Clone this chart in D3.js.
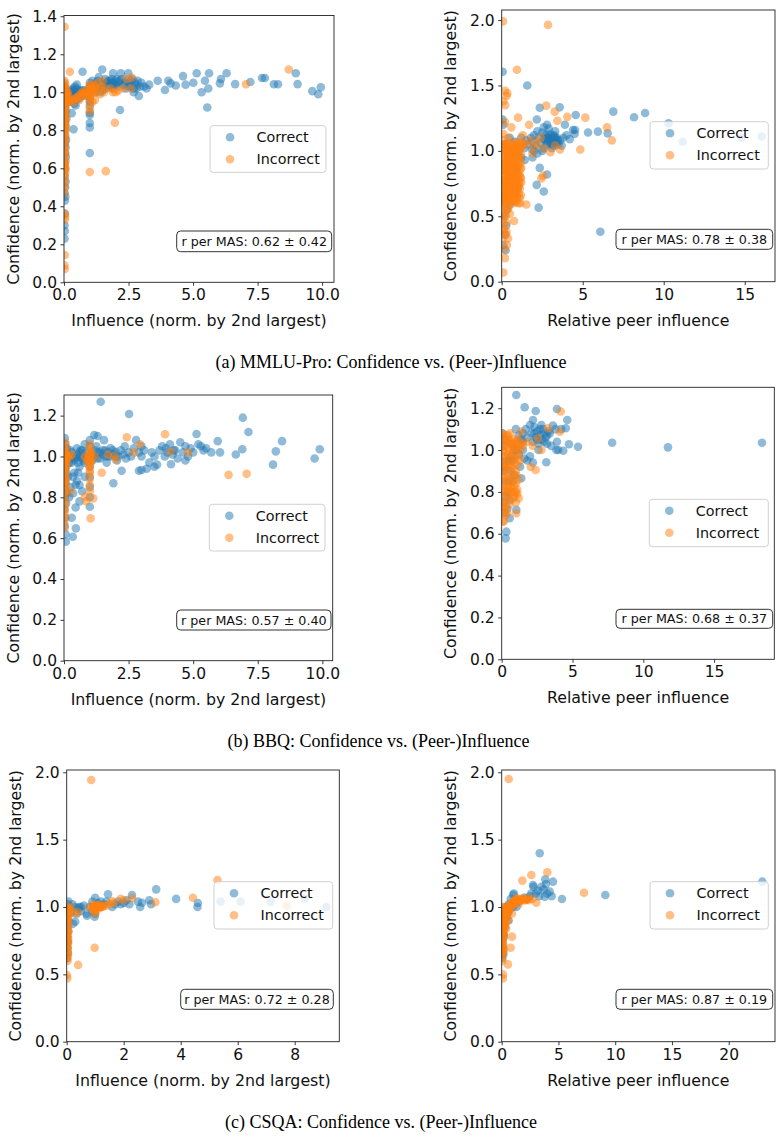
<!DOCTYPE html>
<html>
<head>
<meta charset="utf-8">
<script src="https://cdn.jsdelivr.net/npm/d3@7"></script>
<style>
  body { margin: 0; background: #fff; }
  svg text { font-family: "DejaVu Sans", sans-serif; }
</style>
</head>
<body>
<svg id="chart"></svg>
<script>
// ---- data ----
const seriesNames = ["Correct", "Incorrect"];
const yLabel = "Confidence (norm. by 2nd largest)";
const infLabel = "Influence (norm. by 2nd largest)";
const peerLabel = "Relative peer influence";
const captions = [
  "(a) MMLU-Pro: Confidence vs. (Peer-)Influence",
  "(b) BBQ: Confidence vs. (Peer-)Influence",
  "(c) CSQA: Confidence vs. (Peer-)Influence"
];
const rTexts = [
  "r per MAS: 0.62 ± 0.42", "r per MAS: 0.78 ± 0.38",
  "r per MAS: 0.57 ± 0.40", "r per MAS: 0.68 ± 0.37",
  "r per MAS: 0.72 ± 0.28", "r per MAS: 0.87 ± 0.19"
];

// tick values
const xTicksInf10 = [0, 2.5, 5, 7.5, 10];
const xTicksPeer15 = [0, 5, 10, 15];
const xTicksInf8 = [0, 2, 4, 6, 8];
const xTicksPeer20 = [0, 5, 10, 15, 20];
const yTicks14 = [0, 0.2, 0.4, 0.6, 0.8, 1.0, 1.2, 1.4];
const yTicks12 = [0, 0.2, 0.4, 0.6, 0.8, 1.0, 1.2];
const yTicks20 = [0, 0.5, 1.0, 1.5, 2.0];

// (a) MMLU-Pro, influence
const mmluInfCorrect = [
  [0.02,0.23],[0.03,0.27],[0.02,0.3],[0.04,0.36],[0.03,0.43],[0.05,0.45],[0.02,0.47],[0.04,0.5],
  [0.06,0.53],[0.03,0.56],[0.05,0.6],[0.02,0.63],[0.07,0.66],[0.04,0.68],[0.06,0.71],[0.03,0.73],
  [0.08,0.75],[0.05,0.77],[0.02,0.8],[0.06,0.82],[0.04,0.84],[0.09,0.86],[0.03,0.88],[0.07,0.9],
  [0.05,0.92],[0.02,0.94],[0.1,0.95],[0.06,0.97],[0.03,0.98],[0.12,0.99],[0.08,1.0],[0.04,1.01],
  [0.15,1.0],[0.02,1.03],
  [0.2,1.0],[0.25,0.99],[0.3,1.01],[0.35,1.0],[0.4,0.99],[0.45,1.0],[0.5,1.02],[0.55,1.0],
  [0.6,0.99],[0.65,1.0],[0.7,1.01],[0.75,0.98],[0.8,1.0],[0.85,1.0],[0.9,0.99],[0.95,1.0],
  [0.3,0.97],[0.5,0.96],[0.42,1.03],[0.35,1.02],[0.6,0.97],
  [0.1,1.0],[0.18,0.99],[0.28,1.0],[0.38,1.01],[0.48,0.99],[0.58,1.01],[0.68,0.99],[0.78,1.01],
  [0.88,1.0],[1.05,1.01],[1.15,1.03],[1.25,1.05],[1.45,1.04],[1.65,1.05],[1.85,1.07],[2.0,1.04],
  [2.15,1.06],[2.35,1.05],[2.5,1.03],[2.6,1.06],[2.8,1.02],[1.9,1.05],[1.7,1.06],[2.1,1.03],
  [0.37,0.805],[0.3,0.89],[0.4,0.94],[0.45,0.93],[0.25,0.95],[0.72,1.108],[0.5,1.04],
  [1.0,1.05],[1.0,1.03],[1.0,1.0],[1.0,0.97],[1.0,0.95],[1.0,0.93],[1.0,0.893],[1.0,0.88],
  [1.0,0.838],[1.0,0.815],[1.0,0.68],
  [1.1,1.02],[1.2,1.04],[1.3,1.06],[1.35,1.08],[1.48,1.12],[1.5,1.05],[1.55,1.03],[1.6,1.07],
  [1.7,1.05],[1.75,1.04],[1.8,1.06],[1.85,1.05],[1.9,1.1],[1.95,1.04],[2.0,1.06],[2.05,1.07],
  [2.1,1.05],[2.2,1.1],[2.25,1.07],[2.3,1.04],[2.4,1.06],[2.49,1.1],[2.55,1.05],[2.6,1.03],
  [2.65,1.07],[2.7,1.02],[2.75,1.05],[2.8,1.04],[2.85,1.06],[2.9,0.98],[2.95,1.03],[3.0,1.05],
  [3.1,1.03],[3.2,1.02],[3.3,1.04],[2.17,0.907],[1.4,1.0],[1.6,1.02],[1.2,1.0],[1.8,1.03],
  [2.7,1.0],[2.4,1.02],[1.1,1.06],[1.3,1.02],[1.5,1.01],[1.9,1.02],
  [3.63,1.061],[3.91,1.012],[4.04,1.061],[4.13,1.047],[4.33,1.036],[4.61,1.085],[4.71,1.04],
  [5.01,1.05],[5.14,1.1],[5.33,1.0],[5.46,1.061],[5.59,1.02],[5.62,1.1],[5.55,0.92],[6.04,1.047],
  [6.08,1.07],[6.3,1.1],[6.63,1.043],[7.22,1.054],[7.67,1.075],[7.78,1.075],[8.13,1.042],
  [8.29,1.042],[8.98,1.1],[9.05,1.043],[9.62,1.006],[9.85,0.99],[9.95,1.026]
];
const mmluInfIncorrect = [
  [0.02,1.345],[0.03,0.144],[0.02,0.09],[0.03,0.07],[0.02,0.363],[0.04,0.345],[0.03,0.33],
  [0.02,0.47],[0.03,0.5],[0.05,0.58],[0.02,0.6],[0.04,0.62],[0.06,0.64],[0.03,0.7],[0.05,0.74],
  [0.02,0.78],[0.07,0.8],[0.04,0.82],[0.03,0.85],[0.08,0.87],[0.05,0.89],[0.02,0.91],[0.06,0.93],
  [0.1,0.95],[0.04,0.96],[0.12,0.98],[0.03,1.0],[0.08,1.02],[0.05,1.04],[0.02,1.06],[0.15,0.97],
  [0.2,0.95],[0.23,1.108],[0.26,0.95],[0.33,0.96],
  [0.01,0.52],[0.03,0.54],[0.02,0.56],[0.04,0.59],[0.01,0.61],[0.03,0.63],[0.02,0.66],[0.05,0.68],
  [0.01,0.69],[0.03,0.72],[0.02,0.75],[0.04,0.76],[0.01,0.79],[0.03,0.81],[0.05,0.83],[0.02,0.84],
  [0.04,0.86],[0.01,0.88],[0.06,0.9],[0.03,0.92],[0.02,0.94],[0.05,0.95],[0.08,0.97],[0.01,0.98],
  [0.04,0.99],[0.06,1.01],[0.02,1.02],[0.1,1.0],[0.03,1.05],[0.07,0.99],[0.14,1.0],[0.18,0.98],
  [0.85,1.0],[0.9,0.98],[0.95,1.02],[1.0,1.0],[1.0,0.97],[1.0,0.95],[1.0,0.92],[1.0,0.9],
  [1.0,0.58],[1.05,1.03],[1.1,1.0],[0.8,0.99],[0.75,1.0],[1.15,1.04],[1.2,1.01],[1.3,1.05],
  [1.25,1.0],[1.0,1.04],[0.6,0.96],[0.5,0.97],[0.4,0.95],[0.7,0.98],[1.62,0.585],[1.97,0.84],
  [0.95,0.99],[1.0,1.01],[1.05,0.99],[1.1,1.02],[0.9,1.0],[1.0,1.02],[1.2,1.03],[1.35,1.02],
  [0.7,1.0],[0.55,0.98],[0.45,0.97],[0.65,0.99],[1.45,1.03],
  [1.4,0.99],[1.6,1.02],[1.8,1.02],[1.9,1.0],[2.0,1.0],[2.1,1.01],[2.3,1.02],[2.43,1.07],
  [2.62,1.077],[2.6,1.02],[1.5,1.06],[1.55,1.0],[1.1,0.95],[1.2,0.96],[7.05,1.042],[8.71,1.12]
];

// (a) MMLU-Pro, relative peer influence
const mmluPeerCorrect = [
  [0.06,1.605],[0.05,1.24],[0.1,1.2],[0.24,0.24],[0.1,0.28],[0.2,0.36],[0.28,0.43],[0.15,0.5],
  [0.3,0.55],[0.49,0.586],[0.2,0.6],[0.4,0.65],[0.6,0.7],[0.3,0.72],[0.8,0.75],[1.0,0.72],
  [0.5,0.8],[0.9,0.85],[0.7,0.9],[0.4,0.95],[1.0,0.98],[0.6,1.0],[1.1,1.03],[0.2,1.05],
  [0.8,1.07],[0.5,1.1],[0.3,0.86],[1.2,0.95],[0.1,0.66],
  [1.2,1.1],[1.5,1.08],[1.6,1.05],[1.8,1.1],[1.9,1.07],[2.0,1.12],[2.1,1.04],[2.2,1.15],
  [2.3,1.1],[2.4,1.06],[2.5,1.14],[2.6,1.09],[2.7,1.12],[2.8,1.05],[2.9,1.1],[3.0,1.13],
  [3.0,1.06],[3.1,1.09],[3.2,1.11],[3.2,1.04],[3.3,1.07],[3.4,1.1],[3.5,1.05],[2.6,1.02],
  [2.2,0.98],[1.9,0.95],[2.5,1.0],[3.6,1.08],[3.8,1.1],[4.0,1.12],[3.9,1.2],[4.4,1.16],
  [4.53,1.16],[4.57,1.274],[4.5,1.13],[2.17,1.24],[2.35,1.33],[3.58,1.333],[2.6,1.18],[2.8,1.2],
  [1.58,1.5],[1.42,0.93],[1.87,1.01],[2.35,0.87],[2.8,0.82],[2.16,0.74],[2.6,0.69],[2.28,0.566],
  [2.9,1.07],[3.05,1.1],[3.15,1.07],[3.25,1.12],[3.35,1.08],[2.95,1.12],[3.1,1.05],[3.4,1.06],
  [3.2,1.09],[2.85,1.09],[3.3,1.1],[3.45,1.08],[3.0,1.08],[2.75,1.1],
  [5.33,1.14],[5.94,1.147],[6.54,1.134],[6.89,1.30],[8.17,1.257],[8.85,1.29],[10.3,1.21],
  [11.17,1.07],[14.8,1.1],[16.05,1.11],[6.09,0.382],[4.2,1.09],[3.7,1.04],[2.0,1.0],[1.4,1.02],
  [3.3,1.15],[2.9,1.17],[3.1,1.02],[2.7,1.08]
];
const mmluPeerIncorrect = [
  [0.08,1.99],[2.86,1.963],[0.94,1.62],[0.35,1.44],[0.2,1.46],[0.3,1.42],[0.22,1.35],[0.1,1.38],
  [2.75,1.346],[3.27,1.3],[4.05,1.26],[5.16,1.254],[6.5,1.18],[6.8,1.08],[4.85,1.01],[3.6,1.01],
  [3.44,1.23],[1.01,1.254],[0.6,1.18],[1.69,1.2],[0.76,0.464],[1.52,0.59],[1.15,0.6],[2.45,0.79],
  [2.55,0.81],[0.39,0.33],[0.32,0.28],[0.2,0.18],[0.1,0.07],[0.15,0.25],[0.3,0.38],[0.1,0.45],
  [0.25,0.5],[0.05,0.55],[0.4,0.56],
  [0.05,0.62],[0.2,0.64],[0.35,0.61],[0.5,0.63],[0.65,0.66],[0.8,0.62],[0.95,0.65],[1.1,0.64],
  [0.1,0.7],[0.3,0.68],[0.45,0.72],[0.6,0.7],[0.75,0.74],[0.9,0.71],[1.05,0.73],[1.2,0.76],
  [0.05,0.78],[0.2,0.76],[0.35,0.8],[0.5,0.78],[0.7,0.81],[0.85,0.79],[1.0,0.82],[1.15,0.8],
  [0.1,0.85],[0.25,0.84],[0.4,0.87],[0.55,0.85],[0.7,0.88],[0.9,0.86],[1.05,0.89],[1.2,0.87],
  [0.05,0.92],[0.2,0.91],[0.35,0.94],[0.5,0.92],[0.65,0.95],[0.8,0.93],[0.95,0.96],[1.1,0.94],
  [0.1,0.98],[0.25,1.0],[0.4,0.99],[0.6,1.01],[0.75,0.98],[0.9,1.02],[1.05,1.0],[1.2,1.03],
  [0.15,1.04],[0.3,1.05],[0.5,1.03],[0.7,1.05],[0.85,1.04],[1.0,1.06],[1.3,1.06],[1.5,1.05],
  [0.12,0.6],[0.28,0.61],[0.42,0.6],[0.58,0.61],[0.72,0.6],[0.88,0.61],[1.02,0.6],
  [0.02,0.64],[0.15,0.66],[0.3,0.65],[0.45,0.66],[0.6,0.65],[0.75,0.67],[0.9,0.66],[1.05,0.67],
  [1.18,0.66],[0.08,0.68],[0.22,0.7],[0.38,0.69],[0.52,0.71],[0.68,0.69],[0.82,0.71],[0.98,0.7],
  [1.12,0.71],[0.02,0.73],[0.15,0.74],[0.32,0.73],[0.48,0.75],[0.62,0.73],[0.78,0.75],[0.95,0.74],
  [1.1,0.75],[0.1,0.77],[0.25,0.78],[0.4,0.77],[0.58,0.79],[0.72,0.78],[0.88,0.77],[1.02,0.78],
  [1.18,0.79],[0.02,0.81],[0.18,0.82],[0.32,0.83],[0.48,0.81],[0.62,0.82],[0.8,0.84],[0.95,0.83],
  [1.1,0.82],[0.12,0.86],[0.3,0.87],[0.45,0.88],[0.62,0.86],[0.78,0.87],[0.98,0.88],[1.15,0.86],
  [0.02,0.89],[0.15,0.9],[0.28,0.91],[0.42,0.9],[0.58,0.89],[0.72,0.91],[0.88,0.9],[1.02,0.92],
  [1.18,0.91],[0.1,0.95],[0.25,0.96],[0.45,0.95],[0.6,0.97],[0.75,0.96],[0.9,0.97],[1.05,0.96],
  [1.2,0.97],[0.02,1.0],[0.18,1.02],[0.32,1.01],[0.48,1.0],[0.65,1.02],[0.82,1.01],[0.98,1.02],
  [1.12,1.01],[0.1,1.05],[0.4,1.06],[0.6,1.05],[0.95,1.07],[1.15,1.06],[1.25,1.04],
  [0.05,0.33],[0.15,0.4],[0.3,0.45],[0.05,0.48],[0.2,0.52],[0.35,0.55],[0.1,0.58],[0.5,0.52],
  [0.02,0.4],[0.25,0.36],
  [1.8,1.08],[2.0,1.03],[2.2,1.06],[2.6,1.02],[3.0,0.99],[2.4,1.1],[1.9,0.98],[3.3,1.04],
  [0.05,1.08],[0.1,1.13],[0.4,1.1],[0.2,1.22],[1.3,1.12]
];

// (b) BBQ, influence
const bbqInfCorrect = [
  [0.07,0.583],[0.06,0.62],[0.03,0.66],[0.05,0.7],[0.02,0.74],[0.08,0.77],[0.04,0.8],[0.1,0.82],
  [0.03,0.84],[0.06,0.87],[0.02,0.9],[0.09,0.92],[0.05,0.94],[0.12,0.96],[0.03,0.98],[0.07,1.0],
  [0.02,1.02],[0.1,1.04],[0.05,1.06],[0.03,1.09],
  [0.34,0.607],[0.46,0.648],[0.3,0.7],[0.45,0.75],[0.6,0.78],[0.35,0.82],[0.25,0.85],[0.7,0.83],
  [0.5,0.88],[0.8,0.9],[0.4,0.92],[0.6,0.95],[0.3,0.97],[0.2,1.0],[0.35,1.0],[0.45,0.99],
  [0.55,1.01],[0.65,1.0],[0.75,0.98],[0.85,1.02],[0.9,1.0],[0.25,1.03],[0.5,1.04],[0.7,1.03],
  [0.15,0.9],[0.6,0.86],
  [0.1,0.98],[0.2,0.97],[0.3,1.02],[0.4,0.98],[0.5,1.0],[0.6,1.02],[0.7,0.99],[0.8,0.97],
  [0.15,1.01],[0.25,0.99],[0.55,0.97],[0.65,1.03],[1.1,1.01],[1.2,1.03],[1.3,0.99],[1.4,1.02],
  [1.5,1.03],[1.6,1.0],[1.7,1.02],[1.8,1.0],[1.9,1.03],[2.0,1.0],[0.35,0.9],[0.45,0.86],
  [0.2,0.8],[0.55,0.92],
  [1.0,0.754],[1.0,0.8],[1.0,0.85],[1.0,0.9],[1.0,0.95],[1.0,1.0],[1.0,1.05],[1.0,1.08],[1.17,1.105],
  [1.2,1.0],[1.3,1.02],[1.4,0.99],[1.5,1.01],[1.6,1.03],[1.7,1.0],[1.8,1.04],[1.9,1.01],
  [2.0,1.02],[2.1,1.0],[2.2,1.03],[2.3,1.01],[2.4,0.99],[2.5,1.02],[2.6,1.0],[2.7,1.04],
  [2.79,1.08],[2.9,1.02],[3.0,1.0],[3.1,1.03],[3.2,0.94],[3.3,0.97],[3.4,1.02],[3.5,1.0],
  [3.6,0.96],[3.7,1.03],[3.8,1.05],[3.9,1.0],[4.0,1.02],[4.1,1.06],[4.2,1.01],[4.3,1.03],
  [4.4,0.99],[4.5,1.07],[4.6,1.02],[4.7,1.05],[4.8,1.0],[4.9,1.04],[5.0,1.02],[5.13,1.11],
  [5.2,1.06],[5.3,1.05],[5.4,1.03],[5.5,1.04],[5.7,1.02],[5.95,1.075],[6.04,1.02],
  [1.42,1.268],[2.52,1.208],[1.91,0.869],[2.23,0.93],[3.0,0.934],[4.14,0.962],[4.7,0.98],
  [6.65,1.01],[6.9,1.035],[6.92,1.19],[7.14,1.12],[8.44,1.075],[8.2,1.025],[8.09,0.96],
  [9.7,0.99],[9.9,1.035],[1.55,1.08],[1.3,1.1],[2.9,0.93],[3.5,0.95],[1.65,0.97],[2.05,0.98],
  [3.95,1.04],[4.25,1.03],[3.0,1.05],[1.1,0.98],[1.25,1.05],[0.8,1.06],[2.35,1.05]
];
const bbqInfIncorrect = [
  [0.02,0.65],[0.04,0.7],[0.03,0.74],[0.05,0.78],[0.02,0.82],[0.06,0.85],[0.03,0.88],[0.05,0.9],
  [0.02,0.93],[0.07,0.95],[0.04,0.97],[0.03,1.0],[0.06,1.02],[0.02,1.04],[0.05,1.07],[0.1,0.99],
  [0.15,1.0],[0.23,1.0],[0.3,1.01],[0.25,0.83],
  [0.01,0.8],[0.03,0.83],[0.02,0.86],[0.04,0.87],[0.01,0.89],[0.03,0.91],[0.05,0.92],[0.02,0.94],
  [0.04,0.96],[0.01,0.97],[0.03,0.99],[0.06,0.98],[0.02,1.01],[0.04,1.03],[0.01,1.05],[0.08,1.01],
  [0.12,0.97],[0.05,0.88],[0.02,0.76],[0.03,0.72],[0.01,0.68],
  [0.9,0.98],[0.95,1.0],[1.0,1.0],[1.0,0.98],[1.05,1.02],[1.0,0.95],[1.0,0.92],[1.0,0.89],
  [1.0,0.86],[1.0,0.83],[0.81,0.803],[0.86,0.78],[1.03,0.697],[1.13,0.795],[1.0,1.06],[1.2,1.0],
  [0.8,1.0],[0.95,0.98],[1.0,0.99],[1.02,1.01],[0.98,1.0],[1.05,0.98],[1.0,1.02],[0.97,0.96],
  [1.03,0.97],[1.0,0.93],[1.0,1.04],
  [2.43,1.094],[3.91,1.109],[2.94,1.06],[6.37,0.91],[7.07,0.915],[4.8,1.02],[4.13,1.024],
  [1.94,1.002],[2.0,0.985],[1.46,0.92],[1.7,1.01],[2.7,1.02]
];

// (b) BBQ, relative peer influence
const bbqPeerCorrect = [
  [1.03,1.263],[1.62,1.205],[2.4,1.187],[3.9,1.196],[4.63,1.144],[4.52,1.104],[4.75,1.028],
  [5.39,1.016],[7.8,1.035],[11.74,1.013],[18.38,1.035],[3.15,0.942],[3.86,1.0],[4.35,0.997],
  [1.38,0.865],[1.03,0.714],[0.56,0.674],[0.33,0.61],[0.28,0.578],
  [1.0,1.1],[1.2,1.07],[1.4,1.05],[1.5,1.08],[1.7,1.1],[1.8,1.06],[2.0,1.12],[2.1,1.08],
  [2.2,1.04],[2.3,1.11],[2.4,1.06],[2.5,1.09],[2.6,1.03],[2.7,1.07],[2.8,1.05],[2.9,1.1],
  [3.0,1.04],[3.1,1.06],[3.2,1.03],[3.4,1.08],[3.62,1.117],[3.8,1.1],[3.9,1.04],[4.0,1.0],
  [4.2,1.1],[3.5,1.02],[2.0,0.97],[1.8,0.95],[2.2,0.94],[1.6,0.96],[1.3,0.92],[1.2,0.98],
  [1.0,1.0],[0.8,0.95],[0.6,0.9],[0.5,0.85],[0.4,0.8],[0.3,0.78],[0.2,0.85],[0.1,0.9],
  [0.05,1.08],[0.1,1.02],[0.3,0.95],[0.7,1.03],[0.9,0.88],[0.4,0.72],[0.2,0.7],[0.15,0.75],
  [0.6,0.76],[2.8,1.12],[3.3,1.09],[2.21,1.144],[2.6,1.0],[1.5,1.0],[3.0,1.08],
  [0.5,0.95],[0.7,0.97],[0.9,1.0],[1.1,1.03],[0.3,1.05],[0.2,0.92],[0.8,0.85],[1.5,1.04],
  [2.3,1.08],[2.5,1.05],[2.7,1.1],[3.2,1.07]
];
const bbqPeerIncorrect = [
  [4.17,1.184],[4.1,1.088],[3.27,1.104],[2.8,1.0],[2.56,1.056],[2.05,0.919],[2.4,0.905],
  [1.38,1.088],[1.03,0.88],[1.03,0.698],[0.09,0.658],[1.8,1.04],[2.2,1.02],
  [0.05,0.7],[0.2,0.72],[0.4,0.7],[0.1,0.75],[0.3,0.76],[0.55,0.74],[0.8,0.77],[1.0,0.75],
  [0.05,0.8],[0.25,0.81],[0.45,0.79],[0.65,0.82],[0.85,0.8],[1.1,0.79],[0.15,0.84],[0.35,0.86],
  [0.6,0.84],[0.9,0.83],[0.05,0.88],[0.25,0.9],[0.5,0.89],[0.75,0.91],[1.0,0.9],[0.15,0.93],
  [0.4,0.94],[0.65,0.95],[0.9,0.96],[1.2,0.97],[0.05,0.97],[0.3,0.99],[0.55,1.0],[0.8,0.99],
  [1.05,1.01],[1.3,1.0],[0.1,1.02],[0.35,1.04],[0.6,1.03],[0.85,1.05],[1.1,1.04],[0.2,1.06],
  [0.45,1.07],[0.7,1.02],[1.5,1.02],[0.05,1.05],
  [0.02,0.73],[0.15,0.78],[0.3,0.73],[0.5,0.77],[0.7,0.8],[0.9,0.78],[1.1,0.81],[1.2,0.77],
  [0.05,0.83],[0.2,0.87],[0.4,0.82],[0.6,0.86],[0.8,0.88],[1.0,0.84],[1.2,0.86],
  [0.1,0.91],[0.3,0.92],[0.5,0.93],[0.7,0.92],[0.9,0.94],[1.1,0.93],[1.3,0.95],
  [0.05,0.95],[0.2,0.97],[0.45,0.98],[0.65,0.97],[0.85,1.01],[1.05,0.98],[1.25,1.02],
  [0.1,1.0],[0.25,1.02],[0.5,1.05],[0.75,1.04],[0.95,1.03],[1.15,1.05],[1.4,1.03],
  [0.02,1.08],[0.3,1.07],[0.6,1.08],[0.15,0.66],[0.3,0.69],[0.5,0.81],[0.75,0.86],[1.0,0.8]
];

// (c) CSQA, influence
const csqaInfCorrect = [
  [3.14,1.131],[1.45,1.094],[2.29,1.089],[3.84,1.06],[4.6,1.03],[4.59,1.0],[5.4,1.04],[6.1,1.04],
  [7.16,1.04],[8.36,1.064],[9.11,1.0],[2.58,1.0],[2.64,1.032],[2.9,1.05],[2.96,1.02],[0.98,0.928],
  [0.71,0.935],[0.3,0.89],[0.22,0.875],[0.44,1.0],
  [0.1,1.0],[0.2,1.02],[0.3,1.0],[0.4,0.99],[0.5,1.0],[0.6,1.01],[0.7,0.95],[0.8,1.0],
  [0.9,1.04],[1.0,1.069],[1.1,1.03],[1.2,1.0],[1.3,1.02],[1.6,1.0],[1.7,1.02],[1.8,1.04],
  [1.9,1.02],[2.0,1.03],[2.1,1.05],[2.2,1.02],[1.4,1.04],[0.35,0.95],[0.5,0.97],[0.15,0.96],
  [1.0,0.95],[0.9,0.97],[1.2,1.04],[2.5,1.04],
  [0.02,0.62],[0.04,0.66],[0.03,0.7],[0.05,0.74],[0.02,0.78],[0.06,0.82],[0.03,0.86],[0.05,0.9],
  [0.02,0.94],[0.04,0.98],[0.03,1.02],[0.06,1.04]
];
const csqaInfIncorrect = [
  [0.86,1.943],[5.29,1.2],[4.43,1.069],[3.11,1.035],[7.72,1.01],[0.98,0.698],[0.4,0.57],
  [0.01,0.495],[0.02,0.47],[0.03,0.6],[0.05,0.65],[0.02,0.7],[0.04,0.74],[0.03,0.78],[0.05,0.82],
  [0.02,0.86],[0.04,0.9],[0.06,0.93],[0.03,0.96],[0.05,0.99],[0.1,1.0],
  [0.01,0.62],[0.03,0.64],[0.02,0.67],[0.04,0.69],[0.01,0.72],[0.03,0.73],[0.05,0.76],[0.02,0.77],
  [0.04,0.8],[0.01,0.81],[0.03,0.84],[0.05,0.85],[0.02,0.88],[0.04,0.89],[0.01,0.91],[0.03,0.93],
  [0.05,0.95],[0.02,0.97],[0.04,0.98],[0.01,1.0],[0.08,0.97],[0.12,0.99],
  [0.28,0.953],[0.4,0.96],[0.8,1.0],[0.9,0.98],[1.0,1.0],[1.0,0.99],[1.05,1.01],[1.1,1.0],
  [1.15,1.0],[1.2,1.0],[1.3,1.01],[1.5,1.02],[1.59,1.045],[1.65,1.03],[1.9,1.06],[2.0,1.05],
  [2.29,1.065],[1.0,0.95],[0.95,1.02],
  [0.95,1.0],[1.0,1.01],[1.02,0.99],[1.05,1.0],[1.08,1.01],[0.98,0.98],[1.1,1.01],[1.12,0.99],
  [1.0,0.97],[1.18,1.01],[1.25,1.0],[1.4,1.01]
];

// (c) CSQA, relative peer influence
const csqaPeerCorrect = [
  [3.35,1.399],[22.96,1.188],[9.13,1.089],[5.31,1.059],[4.52,1.188],[3.84,1.205],[4.23,1.114],
  [3.79,1.077],[2.76,1.163],[1.08,1.1],[3.5,1.15],[3.2,1.12],[3.0,1.1],[2.8,1.15],[2.6,1.1],
  [3.7,1.13],[3.9,1.17],[2.5,1.08],[2.2,1.06],[2.0,1.07],[1.5,1.04],[1.2,1.05],[1.0,1.09],
  [0.8,1.06],[0.6,1.02],[0.4,1.0],[0.2,0.95],[0.1,0.9],[0.05,0.85],[0.1,0.8],[0.05,0.75],
  [0.1,0.7],[0.15,0.65],[0.05,0.62],[0.3,0.98],[0.5,0.95],[0.7,0.98],[1.0,1.0],[0.3,0.85],
  [0.2,0.78],[1.3,1.0],[0.6,0.9],[4.4,1.08],[4.0,1.1],[3.3,1.08],
  [0.25,0.9],[0.4,0.93],[0.55,0.97],[0.8,1.0],[0.15,0.8],[0.08,0.68]
];
const csqaPeerIncorrect = [
  [0.62,1.95],[7.25,1.106],[4.02,1.258],[2.61,1.238],[1.82,1.196],[3.05,1.032],[0.91,0.78],
  [0.79,0.698],[0.55,0.574],[0.11,0.5],[0.11,0.47],
  [0.05,0.6],[0.1,0.65],[0.05,0.7],[0.15,0.72],[0.1,0.76],[0.2,0.8],[0.15,0.84],[0.25,0.86],
  [0.2,0.9],[0.3,0.88],[0.35,0.92],[0.3,0.95],[0.45,0.94],[0.5,0.97],[0.6,0.96],[0.7,0.99],
  [0.8,1.0],[0.9,1.01],[1.0,1.02],[1.1,1.03],[1.2,1.04],[1.3,1.05],[1.4,1.05],[1.6,1.05],
  [1.8,1.06],[2.0,1.05],[2.2,1.06],[2.4,1.05],[0.05,0.95],[0.1,0.98],[0.05,1.0],[0.4,0.84],
  [0.6,0.9],[0.9,0.95],[0.2,0.68],[1.5,1.02],[2.7,1.06],[0.05,0.66],[0.1,0.82],[0.25,0.92],
  [0.02,0.63],[0.05,0.67],[0.08,0.7],[0.03,0.73],[0.1,0.74],[0.06,0.78],[0.14,0.78],[0.1,0.81],
  [0.18,0.83],[0.12,0.86],[0.22,0.87],[0.16,0.89],[0.26,0.9],[0.2,0.93],[0.32,0.93],[0.28,0.96],
  [0.4,0.96],[0.35,0.98],[0.48,0.99],[0.55,0.99],[0.62,1.0],[0.7,1.01],[0.78,1.02],[0.85,1.03],
  [0.95,1.03],[1.05,1.04],[1.15,1.05],[1.25,1.06],[1.35,1.06],[1.5,1.06],[1.7,1.05],[1.9,1.06],
  [2.1,1.05],[2.3,1.06],[0.04,0.8],[0.02,0.87],[0.08,0.9],[0.04,0.97],[0.15,0.95],[0.1,1.0]
];

// ---- layout ----
const W = 782, H = 1138;
const colors = ["#1f77b4", "#ff7f0e"];

const panels = [
  { box: [64, 334, 15.5, 282.3], xMax: 10.46, yMax: 1.404, xTicks: xTicksInf10, xFmt: ".1f", yTicks: yTicks14,
    xLabel: infLabel, data: [mmluInfCorrect, mmluInfIncorrect], r: rTexts[0],
    legend: [210, 125.7, 116, 46.6], rBox: [176.7, 231, 155, 20.7] },
  { box: [501.7, 775, 10, 281.7], xMax: 16.87, yMax: 2.077, xTicks: xTicksPeer15, xFmt: "d", yTicks: yTicks20,
    xLabel: peerLabel, data: [mmluPeerCorrect, mmluPeerIncorrect], r: rTexts[1],
    legend: [650, 121.7, 118.3, 47.3], rBox: [616, 229.3, 156.7, 20] },
  { box: [64, 332.7, 395, 660.7], xMax: 10.4, yMax: 1.301, xTicks: xTicksInf10, xFmt: ".1f", yTicks: yTicks12,
    xLabel: infLabel, data: [bbqInfCorrect, bbqInfIncorrect], r: rTexts[2],
    legend: [209.3, 504.3, 115.7, 46.7], rBox: [176.7, 610, 154.3, 20] },
  { box: [501.7, 774.3, 387.3, 659.3], xMax: 19.25, yMax: 1.300, xTicks: xTicksPeer15, xFmt: "d", yTicks: yTicks12,
    xLabel: peerLabel, data: [bbqPeerCorrect, bbqPeerIncorrect], r: rTexts[3],
    legend: [649.3, 499.3, 119, 47.4], rBox: [616, 609.3, 156.7, 19] },
  { box: [66.7, 339.3, 770, 1041.7], xMax: 9.565, yMax: 2.017, xTicks: xTicksInf8, xFmt: "d", yTicks: yTicks20,
    xLabel: infLabel, data: [csqaInfCorrect, csqaInfIncorrect], r: rTexts[4],
    legend: [214, 881.7, 118.7, 47.3], rBox: [180.7, 989.3, 152.6, 20] },
  { box: [501.7, 775, 770, 1041.7], xMax: 24.08, yMax: 2.017, xTicks: xTicksPeer20, xFmt: "d", yTicks: yTicks20,
    xLabel: peerLabel, data: [csqaPeerCorrect, csqaPeerIncorrect], r: rTexts[5],
    legend: [650, 881.7, 118.3, 47.3], rBox: [616, 989.3, 156.7, 20] }
];
const captionPos = [[391, 368], [378.5, 747], [381, 1128]];

const svg = d3.select("#chart").attr("width", W).attr("height", H);
svg.append("rect").attr("width", W).attr("height", H).attr("fill", "#fff");

panels.forEach((p, i) => {
  const [x0, x1, y0, y1] = p.box;
  const x = d3.scaleLinear().domain([0, p.xMax]).range([x0, x1]);
  const y = d3.scaleLinear().domain([0, p.yMax]).range([y1, y0]);
  const g = svg.append("g");

  // clip to axes area
  const clipId = "clip" + i;
  svg.append("clipPath").attr("id", clipId)
    .append("rect").attr("x", x0).attr("y", y0).attr("width", x1 - x0).attr("height", y1 - y0);

  const dots = g.append("g").attr("clip-path", `url(#${clipId})`);
  p.data.forEach((series, s) => {
    dots.append("g")
      .selectAll("circle")
      .data(series)
      .join("circle")
      .attr("cx", d => x(d[0]))
      .attr("cy", d => y(d[1]))
      .attr("r", 4.3)
      .attr("fill", colors[s])
      .attr("fill-opacity", 0.5);
  });

  // axes
  const xAxis = d3.axisBottom(x).tickValues(p.xTicks).tickFormat(d3.format(p.xFmt))
    .tickSize(3.5).tickPadding(3.5).tickSizeOuter(0);
  const yAxis = d3.axisLeft(y).tickValues(p.yTicks).tickFormat(d3.format(".1f"))
    .tickSize(3.5).tickPadding(3.5).tickSizeOuter(0);

  const gx = g.append("g").attr("transform", `translate(0,${y1})`).call(xAxis);
  const gy = g.append("g").attr("transform", `translate(${x0},0)`).call(yAxis);
  [gx, gy].forEach(a => {
    a.select(".domain").remove();
    a.selectAll("line").attr("stroke", "#222").attr("stroke-width", 0.9);
    a.selectAll("text").attr("font-size", 15.5).attr("fill", "#111")
      .attr("font-family", "DejaVu Sans");
  });

  // frame
  g.append("rect").attr("x", x0).attr("y", y0).attr("width", x1 - x0).attr("height", y1 - y0)
    .attr("fill", "none").attr("stroke", "#222").attr("stroke-width", 0.9);

  // axis labels
  g.append("text")
    .attr("x", (x0 + x1) / 2).attr("y", y1 + 44)
    .attr("text-anchor", "middle").attr("font-size", 15.8).attr("fill", "#111")
    .text(p.xLabel);
  g.append("text")
    .attr("transform", `translate(${x0 - 45.3},${(y0 + y1) / 2}) rotate(-90)`)
    .attr("text-anchor", "middle").attr("font-size", 15.8).attr("fill", "#111")
    .text(yLabel);

  // legend
  const [lx, ly, lw, lh] = p.legend;
  const lg = g.append("g");
  lg.append("rect").attr("x", lx).attr("y", ly).attr("width", lw).attr("height", lh)
    .attr("rx", 3).attr("fill", "#fff").attr("fill-opacity", 0.8)
    .attr("stroke", "#cccccc").attr("stroke-width", 0.9);
  seriesNames.forEach((name, s) => {
    const cy = ly + 11.5 + s * 22;
    lg.append("circle").attr("cx", lx + 20).attr("cy", cy).attr("r", 4.3)
      .attr("fill", colors[s]).attr("fill-opacity", 0.5);
    lg.append("text").attr("x", lx + 46.5).attr("y", cy + 5.2)
      .attr("font-size", 14.3).attr("fill", "#111").text(name);
  });

  // correlation box
  const [bx, by, bw, bh] = p.rBox;
  g.append("rect").attr("x", bx).attr("y", by).attr("width", bw).attr("height", bh)
    .attr("rx", 4).attr("fill", "#fff").attr("fill-opacity", 0.8)
    .attr("stroke", "#333").attr("stroke-width", 1);
  g.append("text").attr("x", bx + bw / 2).attr("y", by + bh / 2 + 4.5)
    .attr("text-anchor", "middle").attr("font-size", 12.7).attr("fill", "#111")
    .text(p.r);
});

// captions
captions.forEach((c, i) => {
  svg.append("text")
    .attr("x", captionPos[i][0]).attr("y", captionPos[i][1])
    .attr("text-anchor", "middle").attr("font-size", 18).attr("fill", "#000")
    .style("font-family", "'Liberation Serif', 'Times New Roman', serif")
    .text(c);
});
</script>
</body>
</html>
